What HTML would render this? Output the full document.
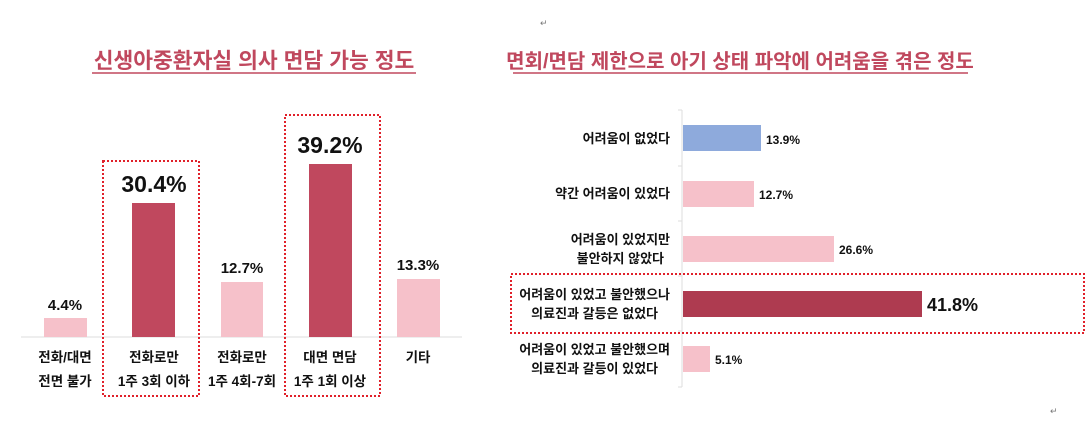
<!DOCTYPE html>
<html><head><meta charset="utf-8"><style>
html,body{margin:0;padding:0;background:#fff;}
svg{display:block;font-family:"Liberation Sans","Noto Sans CJK KR",sans-serif;}
</style></head><body>
<svg width="1086" height="424" viewBox="0 0 1086 424" xmlns="http://www.w3.org/2000/svg">
<text x="540" y="26" font-size="9" fill="#777">↵</text>
<text x="1050" y="414" font-size="9" fill="#777">↵</text>

<!-- LEFT CHART -->
<text x="254" y="68" text-anchor="middle" font-size="21.5" font-weight="bold" fill="#c0485e">신생아중환자실 의사 면담 가능 정도</text>
<line x1="92" y1="73" x2="416" y2="73" stroke="#c0485e" stroke-width="1.5"/>
<line x1="21" y1="337" x2="462" y2="337" stroke="#ddd" stroke-width="1"/>
<g fill="#f6c1ca">
<rect x="44" y="318" width="43" height="19"/>
<rect x="221" y="282" width="42" height="55"/>
<rect x="397" y="279" width="43" height="58"/>
</g>
<g fill="#c0485e">
<rect x="132" y="203" width="43" height="134"/>
<rect x="309" y="164" width="43" height="173"/>
</g>
<g font-weight="bold" text-anchor="middle" fill="#111">
<text x="65" y="310" font-size="15">4.4%</text>
<text x="154" y="192" font-size="23">30.4%</text>
<text x="242" y="273" font-size="15">12.7%</text>
<text x="330" y="153" font-size="23">39.2%</text>
<text x="418" y="270" font-size="15">13.3%</text>
</g>
<g font-size="13.5" text-anchor="middle" fill="#111" font-weight="bold">
<text x="65" y="362">전화/대면</text><text x="65" y="386">전면 불가</text>
<text x="154" y="362">전화로만</text><text x="154" y="386">1주 3회 이하</text>
<text x="242" y="362">전화로만</text><text x="242" y="386">1주 4회-7회</text>
<text x="330" y="362">대면 면담</text><text x="330" y="386">1주 1회 이상</text>
<text x="418" y="362">기타</text>
</g>
<g fill="none" stroke="#e0202a" stroke-width="2" stroke-dasharray="2,2">
<rect x="103" y="161" width="96" height="235"/>
<rect x="285" y="115" width="95" height="281"/>
</g>

<!-- RIGHT CHART -->
<text x="740" y="68" text-anchor="middle" font-size="20" font-weight="bold" fill="#c0485e">면회/면담 제한으로 아기 상태 파악에 어려움을 겪은 정도</text>
<line x1="513" y1="73" x2="968" y2="73" stroke="#c0485e" stroke-width="1.5"/>
<line x1="682" y1="110" x2="682" y2="387" stroke="#ddd" stroke-width="1"/>
<g stroke="#ddd"><line x1="678" y1="110" x2="682" y2="110"/><line x1="678" y1="166" x2="682" y2="166"/><line x1="678" y1="221" x2="682" y2="221"/><line x1="678" y1="276" x2="682" y2="276"/><line x1="678" y1="331" x2="682" y2="331"/><line x1="678" y1="387" x2="682" y2="387"/></g>
<rect x="683" y="125" width="78" height="26" fill="#8eaadc"/>
<rect x="683" y="181" width="71" height="26" fill="#f6c1ca"/>
<rect x="683" y="236" width="151" height="26" fill="#f6c1ca"/>
<rect x="683" y="291" width="239" height="26" fill="#ae3b50"/>
<rect x="683" y="346" width="27" height="26" fill="#f6c1ca"/>
<g font-weight="bold" fill="#111">
<text x="766" y="144" font-size="12">13.9%</text>
<text x="759" y="199" font-size="12">12.7%</text>
<text x="839" y="254" font-size="12">26.6%</text>
<text x="927" y="311" font-size="18">41.8%</text>
<text x="715" y="364" font-size="12">5.1%</text>
</g>
<g font-size="13" text-anchor="end" fill="#111" font-weight="bold">
<text x="670" y="143">어려움이 없었다</text>
<text x="670" y="198">약간 어려움이 있었다</text>
<text x="670" y="244">어려움이 있었지만</text><text x="664" y="263">불안하지 않았다</text>
<text x="670" y="299">어려움이 있었고 불안했으나</text><text x="658" y="318">의료진과 갈등은 없었다</text>
<text x="670" y="354">어려움이 있었고 불안했으며</text><text x="658" y="373">의료진과 갈등이 있었다</text>
</g>
<rect x="511" y="274" width="573" height="59" fill="none" stroke="#e0202a" stroke-width="2" stroke-dasharray="2,2"/>
</svg>
</body></html>
